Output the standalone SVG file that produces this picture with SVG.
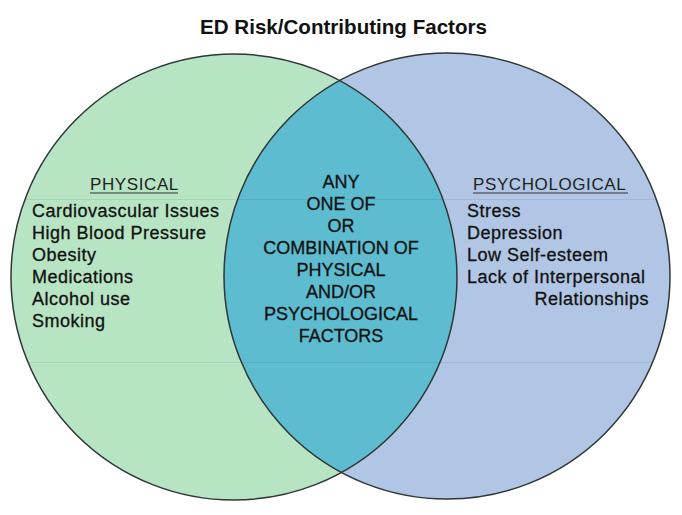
<svg xmlns="http://www.w3.org/2000/svg" width="682" height="515" viewBox="0 0 682 515">
<style>
  .t { font-family: "Liberation Sans", Arial, Helvetica, sans-serif; fill: #111; }
  .title { font-size: 21px; font-weight: bold; }
  .hd { font-size: 17px; letter-spacing: 0.6px; fill: #222; }
  .item { font-size: 18px; letter-spacing: 0.5px; stroke: #111; stroke-width: 0.3px; }
  .mid { font-size: 18px; text-anchor: middle; stroke: #111; stroke-width: 0.3px; }
  .ring { fill: none; stroke: #2f3636; stroke-width: 1.5; }
  .ul { stroke: #333; stroke-width: 1; }
  .faint { stroke: #000; stroke-opacity: 0.07; stroke-width: 1; }
</style>
<defs>
  <clipPath id="clipL"><ellipse cx="234" cy="277" rx="223" ry="223"/></clipPath>
  <clipPath id="clipU">
    <ellipse cx="234" cy="277" rx="223" ry="223"/>
    <ellipse cx="447" cy="276" rx="223" ry="223"/>
  </clipPath>
</defs>
<rect width="682" height="515" fill="#ffffff"/>
<g id="title">
  <text class="t title" x="343.5" y="34" text-anchor="middle" textLength="287" lengthAdjust="spacingAndGlyphs">ED Risk/Contributing Factors</text>
</g>
<g id="physical-circle">
  <ellipse cx="234" cy="277" rx="223" ry="223" fill="#b7e4c3"/>
</g>
<g id="psychological-circle">
  <ellipse cx="447" cy="276" rx="223" ry="223" fill="#b0c6e4"/>
</g>
<g id="overlap">
  <ellipse cx="447" cy="276" rx="223" ry="223" fill="#5dbccf" clip-path="url(#clipL)"/>
</g>
<g id="faint-lines" clip-path="url(#clipU)">
  <line class="faint" x1="0" y1="199.5" x2="682" y2="199.5"/>
  <line class="faint" x1="0" y1="362.5" x2="682" y2="362.5"/>
</g>
<g id="outlines">
  <ellipse class="ring" cx="234" cy="277" rx="223" ry="223"/>
  <ellipse class="ring" cx="447" cy="276" rx="223" ry="223"/>
</g>
<g id="physical">
  <text class="t hd" x="90" y="190">PHYSICAL</text>
  <line class="ul" x1="90" y1="193" x2="178" y2="193"/>
  <text class="t item" x="32" y="217">Cardiovascular Issues</text>
  <text class="t item" x="32" y="239">High Blood Pressure</text>
  <text class="t item" x="32" y="261">Obesity</text>
  <text class="t item" x="32" y="283">Medications</text>
  <text class="t item" x="32" y="305">Alcohol use</text>
  <text class="t item" x="32" y="327">Smoking</text>
</g>
<g id="combined">
  <text class="t mid" x="341" y="188">ANY</text>
  <text class="t mid" x="341" y="210">ONE OF</text>
  <text class="t mid" x="341" y="232">OR</text>
  <text class="t mid" x="341" y="254">COMBINATION OF</text>
  <text class="t mid" x="341" y="276">PHYSICAL</text>
  <text class="t mid" x="341" y="298">AND/OR</text>
  <text class="t mid" x="341" y="320">PSYCHOLOGICAL</text>
  <text class="t mid" x="341" y="342">FACTORS</text>
</g>
<g id="psychological">
  <text class="t hd" x="473" y="190">PSYCHOLOGICAL</text>
  <line class="ul" x1="473" y1="193" x2="628" y2="193"/>
  <text class="t item" x="467" y="217">Stress</text>
  <text class="t item" x="467" y="239">Depression</text>
  <text class="t item" x="467" y="261">Low Self-esteem</text>
  <text class="t item" x="467" y="283">Lack of Interpersonal</text>
  <text class="t item" x="649" y="305" text-anchor="end">Relationships</text>
</g>
<g id="connectors"></g>
</svg>
